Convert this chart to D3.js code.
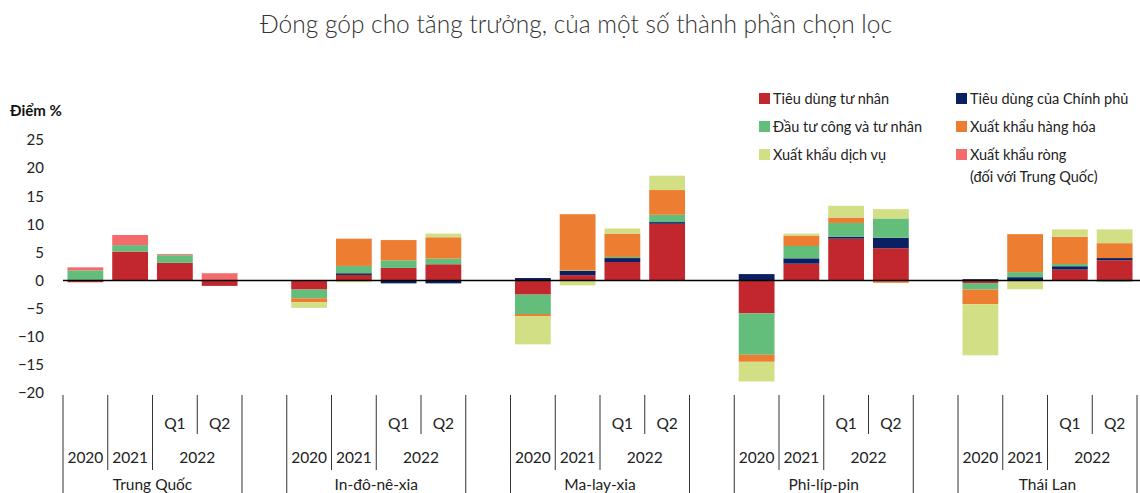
<!DOCTYPE html>
<html><head><meta charset="utf-8">
<script src="https://cdn.jsdelivr.net/npm/d3@7"></script>
<style>
body{margin:0;background:#fff;}
svg{display:block;font-family:"Lato","Open Sans",sans-serif;}
</style></head>
<body><svg id="chart" width="1140" height="493"></svg>
<script>
const countries = ["Trung Quốc","In-đô-nê-xia","Ma-lay-xia","Phi-líp-pin","Thái Lan"];
const periods = ["2020","2021","Q1","Q2"];
const seriesNames = ["Tiêu dùng tư nhân","Tiêu dùng của Chính phủ","Đầu tư công và tư nhân","Xuất khẩu hàng hóa","Xuất khẩu dịch vụ","Xuất khẩu ròng"];
const seriesColors = ["#c1272d","#0b2063","#63be7b","#ed7d31","#d3df84","#f46b6c"];
const yTicks = [25,20,15,10,5,0,-5,-10,-15,-20];

// values per bar: country x period (2020, 2021, 2022 Q1, 2022 Q2)
const privateCons   = [-0.3,5.15,3.15,-0.95,  -1.6,1.0,2.25,2.9,   -2.5,0.95,3.3,10.1,  -5.85,3.0,7.45,5.75,  -0.45,0,1.95,3.6];
const govCons       = [0,0,0,0,               0,0.3,-0.5,-0.5,     0.45,0.75,0.7,0.3,   1.15,0.95,0.35,1.85,  0.25,0.6,0.6,0.4];
const investment    = [1.8,1.15,1.35,0.1,     -1.55,1.3,1.35,1.0,  -3.45,0.1,0.2,1.3,   -7.35,2.2,2.45,3.45,  -1.15,0.9,0.4,-0.2];
const goodsExports  = [0,0,0,0,               -0.7,4.85,3.6,3.8,   -0.35,10.0,4.15,4.4, -1.25,1.85,0.95,-0.4, -2.6,6.75,4.85,2.65];
const servExports   = [0,0,0,0,               -1.0,-0.3,0,0.65,    -5.05,-0.85,0.9,2.55,-3.5,0.35,2.1,1.65,   -9.1,-1.55,1.3,2.45];
const netExports    = [0.55,1.8,0.2,1.2,      0,0,0,0,             0,0,0,0,             0,0,0,0,              0,0,0,0];

const seriesData = [privateCons,govCons,investment,goodsExports,servExports,netExports];

const svg = d3.select("#chart");
const keys = seriesNames.map((d,i)=>"s"+i);
const rows = [];
countries.forEach((c,g)=>periods.forEach((p,i)=>{
  const r = {slot: String(g*5+i), g, i};
  seriesData.forEach((arr,k)=>{ r[keys[k]] = arr[g*4+i]; });
  rows.push(r);
}));

const step = 44.75, x0 = 63;
const slots = d3.range(25).map(String);
const x = d3.scaleBand().domain(slots).range([x0, x0+25*step]).paddingInner(0.2).paddingOuter(0.1);
const y = d3.scaleLinear().domain([-20,25]).range([393,140]);

// title
svg.append("text").attr("x",576).attr("y",33).attr("text-anchor","middle")
  .attr("font-size",24.5).attr("font-weight",300).attr("fill","#333")
  .text("Đóng góp cho tăng trưởng, của một số thành phần chọn lọc");

// y axis label
svg.append("text").attr("x",10).attr("y",116).attr("font-size",15).attr("font-weight",700).attr("fill","#111").text("Điểm %");

const yAxis = d3.axisLeft(y).tickValues(yTicks).tickSize(0).tickPadding(0);
const ya = svg.append("g").attr("transform","translate(44,0)").call(yAxis);
ya.select(".domain").remove();
ya.selectAll("text").attr("font-size",15).attr("fill","#222").attr("font-family","Lato, sans-serif");

// stacks
const stack = d3.stack().keys(keys).offset(d3.stackOffsetDiverging);
const stacked = stack(rows);
svg.append("g").selectAll("g").data(stacked).join("g")
  .attr("fill",(d,i)=>seriesColors[i])
  .selectAll("rect").data(d=>d).join("rect")
  .attr("x",d=>x(d.data.slot))
  .attr("width",x.bandwidth())
  .attr("y",d=>y(Math.max(d[0],d[1])))
  .attr("height",d=>Math.abs(y(d[0])-y(d[1])));

// zero line
svg.append("line").attr("x1",x0).attr("x2",1140).attr("y1",y(0)).attr("y2",y(0))
  .attr("stroke","#000").attr("stroke-width",1.5);

// category axis
const cat = svg.append("g");
const bnd = s => x0 + s*step;
const lineTop = 395;
countries.forEach((c,g)=>{
  const b = g*5;
  const lines = [[b,493],[b+1,470],[b+2,470],[b+3,434],[b+4,493]];
  lines.forEach(([s,yb])=>{
    cat.append("line").attr("x1",bnd(s)).attr("x2",bnd(s)).attr("y1",lineTop).attr("y2",yb)
      .attr("stroke","#333").attr("stroke-width",1);
  });
  const t = (xx,yy,txt)=>cat.append("text").attr("x",xx).attr("y",yy).attr("text-anchor","middle")
      .attr("font-size",15.5).attr("fill","#222").text(txt);
  t(x(String(b+2))+x.bandwidth()/2,429,periods[2]);
  t(x(String(b+3))+x.bandwidth()/2,429,periods[3]);
  t((bnd(b)+bnd(b+1))/2,463,periods[0]);
  t((bnd(b+1)+bnd(b+2))/2,463,periods[1]);
  t((bnd(b+2)+bnd(b+4))/2,463,"2022");
  t((bnd(b)+bnd(b+4))/2,490,c);
});

// legend
const legPos = [[759,99],[956,99],[759,127],[956,127],[759,155],[956,155]];
const lg = svg.append("g");
seriesNames.forEach((name,k)=>{
  const [lx,ly] = legPos[k];
  lg.append("rect").attr("x",lx).attr("y",ly-6).attr("width",11).attr("height",11).attr("fill",seriesColors[k]);
  lg.append("text").attr("x",lx+14).attr("y",ly+5).attr("font-size",14.5).attr("fill","#222").text(name);
  if (k===5){
    lg.append("text").attr("x",lx+14).attr("y",ly+27).attr("font-size",14.5).attr("fill","#222").text("(đối với Trung Quốc)");
  }
});
</script></body></html>
